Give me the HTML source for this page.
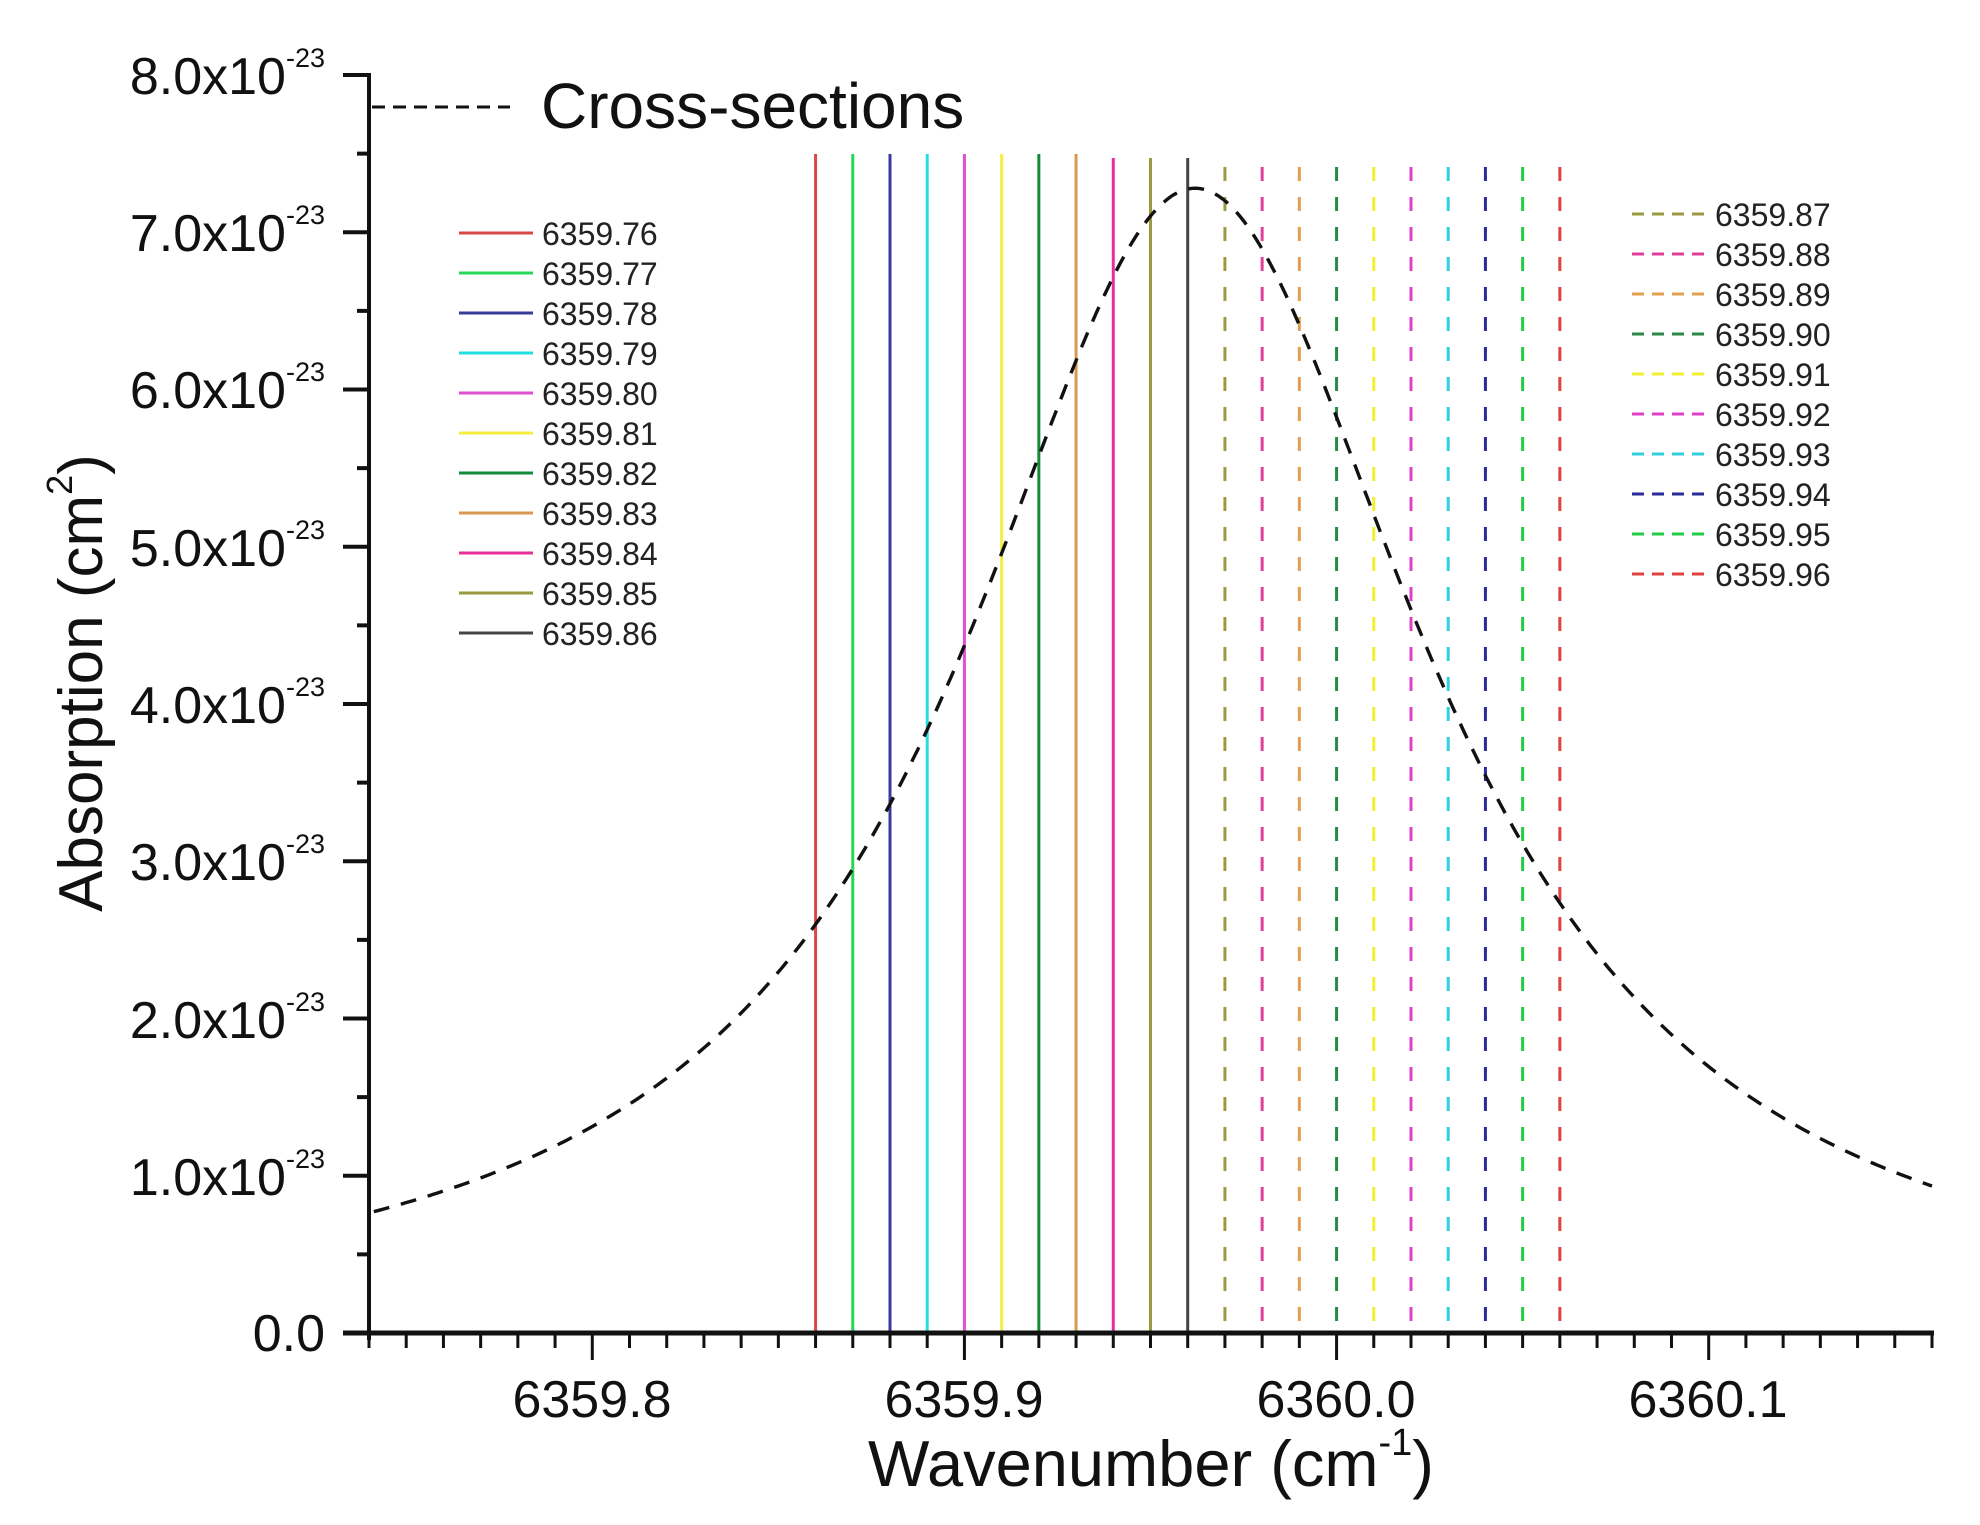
<!DOCTYPE html>
<html><head><meta charset="utf-8"><style>
html,body{margin:0;padding:0;background:#fff;}
svg{display:block;font-family:"Liberation Sans",Arial,sans-serif;}
</style></head><body>
<svg id="s" width="1980" height="1525" viewBox="0 0 1980 1525" xmlns="http://www.w3.org/2000/svg">
<rect width="1980" height="1525" fill="#fff"/>
<g id="g"></g>
<g font-size="52" fill="#111" text-anchor="end">
<text x="325" y="94">8.0x10<tspan font-size="27" dy="-27">-23</tspan></text>
<text x="325" y="251">7.0x10<tspan font-size="27" dy="-27">-23</tspan></text>
<text x="325" y="408">6.0x10<tspan font-size="27" dy="-27">-23</tspan></text>
<text x="325" y="566">5.0x10<tspan font-size="27" dy="-27">-23</tspan></text>
<text x="325" y="723">4.0x10<tspan font-size="27" dy="-27">-23</tspan></text>
<text x="325" y="880">3.0x10<tspan font-size="27" dy="-27">-23</tspan></text>
<text x="325" y="1038">2.0x10<tspan font-size="27" dy="-27">-23</tspan></text>
<text x="325" y="1195">1.0x10<tspan font-size="27" dy="-27">-23</tspan></text>
<text x="325" y="1351">0.0</text>
</g>
<g font-size="52" fill="#111" text-anchor="middle">
<text x="592" y="1417">6359.8</text>
<text x="964" y="1417">6359.9</text>
<text x="1336" y="1417">6360.0</text>
<text x="1708" y="1417">6360.1</text>
</g>
<text x="868" y="1486" font-size="65" fill="#111">Wavenumber (cm<tspan font-size="38" dy="-31">-1</tspan><tspan dy="31">)</tspan></text>
<text transform="translate(102,683) rotate(-90)" text-anchor="middle" font-size="62" fill="#111">Absorption (cm<tspan font-size="36" dy="-30">2</tspan><tspan dy="30">)</tspan></text>
<line x1="372" y1="107" x2="510" y2="107" stroke="#111" stroke-width="3" stroke-dasharray="13,8"/>
<text x="541" y="128" font-size="64" fill="#111">Cross-sections</text>
</svg>
<script>
var g=document.getElementById('g'),NS='http://www.w3.org/2000/svg';
function el(t,a){var e=document.createElementNS(NS,t);for(var k in a)e.setAttribute(k,a[k]);g.appendChild(e);return e;}
function X(v){return 369+(v-6359.74)*3721.4;}
function Y(v){return 1333-v*157.25;}
var solid=['#d84848','#22d855','#3a3a9a','#22e0e0','#e050d0','#f5ee40','#128a3a','#d89850','#e8309a','#9a9a40','#444444'];
var dashed=['#9a9a40','#e0409a','#e0a050','#2a8a4a','#f0f030','#e040c8','#30d0e0','#2a2a9a','#22cc44','#e04040'];
var sl=['6359.76','6359.77','6359.78','6359.79','6359.80','6359.81','6359.82','6359.83','6359.84','6359.85','6359.86'];
var dl=['6359.87','6359.88','6359.89','6359.90','6359.91','6359.92','6359.93','6359.94','6359.95','6359.96'];
for(var i=0;i<11;i++){var x=X(6359.86+0.01*i);el('line',{x1:x,y1:(i>=8?158:154),x2:x,y2:1333,stroke:solid[i],'stroke-width':3});
 el('line',{x1:459,y1:233+40*i,x2:533,y2:233+40*i,stroke:solid[i],'stroke-width':3});
 var t=el('text',{x:542,y:245+40*i,'font-size':32,fill:'#222'});t.textContent=sl[i];}
for(var i=0;i<10;i++){var x=X(6359.97+0.01*i);el('line',{x1:x,y1:167,x2:x,y2:1333,stroke:dashed[i],'stroke-width':3,'stroke-dasharray':'14,16'});
 el('line',{x1:1632,y1:214+40*i,x2:1708,y2:214+40*i,stroke:dashed[i],'stroke-width':3,'stroke-dasharray':'12,8'});
 var t=el('text',{x:1715,y:226+40*i,'font-size':32,fill:'#222'});t.textContent=dl[i];}
var d='';for(var k=0;k<=420;k++){var v=6359.7413+k*0.001;if(v>6360.16)v=6360.16;var off=(v-6359.962)/0.076;var y=7.28/(1+off*off);d+=(k?'L':'M')+X(v).toFixed(1)+' '+Y(y).toFixed(1);}
el('path',{d:d,fill:'none',stroke:'#111','stroke-width':3.4,'stroke-dasharray':'16,12'});
el('line',{x1:369,y1:73,x2:369,y2:1340,stroke:'#111','stroke-width':4});
el('line',{x1:343,y1:1333,x2:1934,y2:1333,stroke:'#111','stroke-width':5});
for(var j=0;j<=16;j++){var y=1333-j*157.25/2;el('line',{x1:(j%2?357:343),y1:y,x2:369,y2:y,stroke:'#111','stroke-width':4});}
for(var j=0;j<=42;j++){var v=6359.74+j*0.01;var x=X(v);var maj=((j+4)%10==0);el('line',{x1:x,y1:1333,x2:x,y2:(maj?1360:1348),stroke:'#111','stroke-width':3});}
</script>
</body></html>
